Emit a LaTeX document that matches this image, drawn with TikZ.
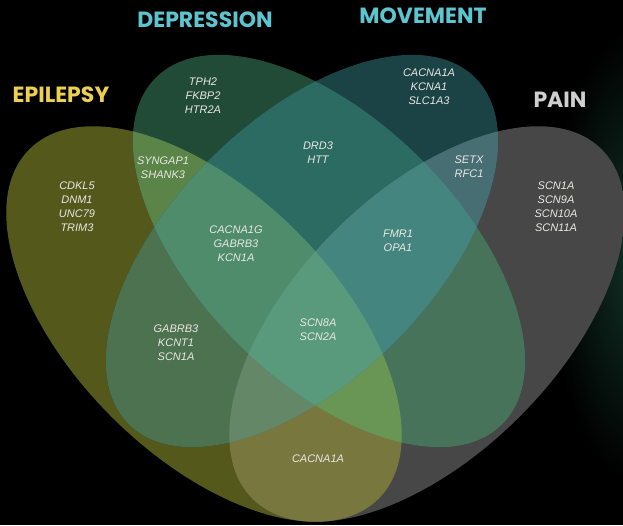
\documentclass[tikz,border=0pt]{standalone}
\usepackage{fontspec}
\newfontfamily\genefont{Liberation Sans}
\newfontfamily\titlefont{Poppins}
\definecolor{glow}{RGB}{18,52,40}
\definecolor{cE}{RGB}{85,88,27}
\definecolor{cD}{RGB}{33,74,55}
\definecolor{cM}{RGB}{27,66,69}
\definecolor{cP}{RGB}{71,71,71}
\definecolor{cED}{RGB}{91,132,72}
\definecolor{cEM}{RGB}{77,114,80}
\definecolor{cEP}{RGB}{120,120,62}
\definecolor{cDM}{RGB}{44,107,98}
\definecolor{cDP}{RGB}{71,115,90}
\definecolor{cMP}{RGB}{70,110,115}
\definecolor{cEDM}{RGB}{79,140,107}
\definecolor{cEDP}{RGB}{105,150,85}
\definecolor{cEMP}{RGB}{100,135,104}
\definecolor{cDMP}{RGB}{68,133,127}
\definecolor{cEDMP}{RGB}{90,154,124}
\definecolor{genetxt}{RGB}{232,232,228}
\definecolor{ttlyellow}{RGB}{237,208,82}
\definecolor{ttlcyan}{RGB}{92,197,207}
\definecolor{ttlgray}{RGB}{207,207,207}
\newcommand\clE{\clip[rotate around={-45:(204,201)}] (204,201) ellipse [x radius=247, y radius=131];}
\newcommand\clP{\clip[rotate around={45:(427,201)}] (427,201) ellipse [x radius=247, y radius=131];}
\newcommand\clM{\clip[rotate around={45:(302,274)}] (302,274) ellipse [x radius=245, y radius=130];}
\newcommand\clD{\clip[rotate around={-45:(329,274)}] (329,274) ellipse [x radius=245, y radius=130];}
\newcommand\regfill[2]{\begin{scope}#1\fill[#2] (0,0) rectangle (623,525);\end{scope}}
\tikzset{
  gene/.style={text=genetxt, font=\genefont\itshape\fontsize{11}{14}\selectfont, align=center, inner sep=0pt},
  ttl/.style={font=\titlefont\bfseries\fontsize{22}{26}\selectfont, inner sep=0pt}
}
\begin{document}
\begin{tikzpicture}[x=1pt,y=1pt]
\useasboundingbox (0,0) rectangle (623,525);
\fill[black] (0,0) rectangle (623,525);
\begin{scope}
\clip (0,0) rectangle (623,525);
\shade[inner color=glow, outer color=black] (640,270) ellipse [x radius=90, y radius=230];
\end{scope}
% single sets
\regfill{\clE}{cE}
\regfill{\clP}{cP}
\regfill{\clD}{cD}
\regfill{\clM}{cM}
% pairs
\regfill{\clE\clD}{cED}
\regfill{\clE\clM}{cEM}
\regfill{\clE\clP}{cEP}
\regfill{\clD\clM}{cDM}
\regfill{\clD\clP}{cDP}
\regfill{\clM\clP}{cMP}
% triples
\regfill{\clE\clD\clM}{cEDM}
\regfill{\clE\clD\clP}{cEDP}
\regfill{\clE\clM\clP}{cEMP}
\regfill{\clD\clM\clP}{cDMP}
% all four
\regfill{\clE\clD\clM\clP}{cEDMP}
% titles
\node[ttl, text=ttlyellow] (tE) at (61,430) {EPILEPSY};
\node[ttl, text=ttlcyan] (tD) at (205,505) {DEPRESSION};
\node[ttl, text=ttlcyan] (tM) at (423,509) {MOVEMENT};
\node[ttl, text=ttlgray] (tP) at (560,425) {PAIN};
% gene lists
\node[gene] (gD) at (203,429) {TPH2\\FKBP2\\HTR2A};
\node[gene] (gM) at (429,438) {CACNA1A\\KCNA1\\SLC1A3};
\node[gene] (gE) at (77,318) {CDKL5\\DNM1\\UNC79\\TRIM3};
\node[gene] (gED) at (163,357) {SYNGAP1\\SHANK3};
\node[gene] (gDM) at (318,372) {DRD3\\HTT};
\node[gene] (gMP) at (469,358) {SETX\\RFC1};
\node[gene] (gEDM) at (236,281) {CACNA1G\\GABRB3\\KCN1A};
\node[gene] (gDMP) at (398,284) {FMR1\\OPA1};
\node[gene] (gP) at (556,318) {SCN1A\\SCN9A\\SCN10A\\SCN11A};
\node[gene] (gEM) at (176,182) {GABRB3\\KCNT1\\SCN1A};
\node[gene] (gAll) at (318,195) {SCN8A\\SCN2A};
\node[gene] (gEP) at (318,66) {CACNA1A};
\end{tikzpicture}
\end{document}
